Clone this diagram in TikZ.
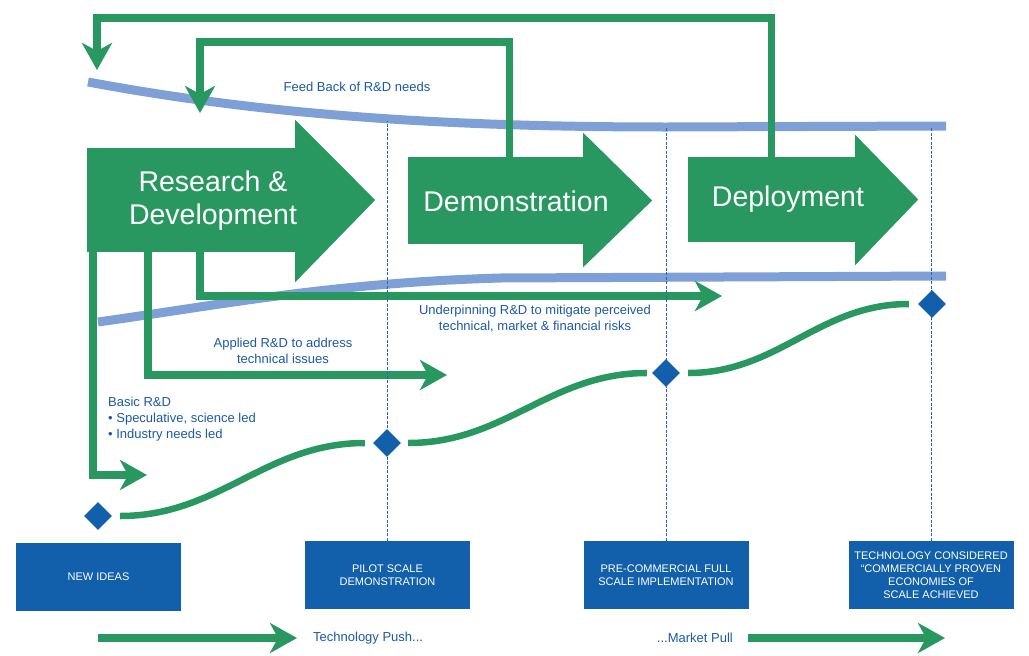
\documentclass[tikz,border=0pt]{standalone}
\usepackage{fontspec}
\setmainfont{Liberation Sans}
\usepackage{xcolor}
\usetikzlibrary{shapes.geometric,arrows.meta}

\definecolor{rdgreen}{RGB}{40,152,96}
\definecolor{bandblue}{RGB}{127,160,214}
\definecolor{boxblue}{RGB}{18,96,172}
\definecolor{textblue}{RGB}{28,88,166}
\definecolor{guideblue}{RGB}{40,100,180}

\begin{document}
\begin{tikzpicture}[x=1pt,y=-1pt,
  greenline/.style={draw=rdgreen,line width=7.5pt},
  gtip/.style={-{Stealth[length=27pt,width=30pt,inset=8pt]}},
  band/.style={draw=bandblue,line width=9pt},
  guide/.style={draw=guideblue,line width=0.8pt,dash pattern=on 3pt off 1.5pt},
  body/.style={fill=rdgreen,inner sep=0pt},
  bigtext/.style={text=white,font=\fontsize{28.5}{33}\selectfont,align=center,inner sep=0pt},
  note/.style={text=textblue,font=\fontsize{13}{16}\selectfont,align=center,inner sep=0pt},
  stage/.style={fill=boxblue,text=white,font=\fontsize{11}{13}\selectfont,align=center,minimum width=165pt,minimum height=68pt,inner sep=0pt},
  mile/.style={diamond,fill=boxblue,minimum size=28pt,inner sep=0pt},
  sline/.style={draw=rdgreen,line width=6.5pt}]
\useasboundingbox (0,0) rectangle (1029,656);

\draw[band] (88,82) .. controls (250,112) and (420,127) .. (667,127) -- (946,126);
\draw[band] (98,322) .. controls (220,305) and (330,283) .. (500,278) -- (946,276);

\node[body,minimum width=208pt,minimum height=104pt] (rd) at (191,200) {};
\fill[rdgreen] ([yshift=28pt]rd.north east) -- ([xshift=80pt]rd.east) -- ([yshift=-30pt]rd.south east) -- cycle;
\node[body,minimum width=175pt,minimum height=87pt] (dm) at (495.5,200.5) {};
\fill[rdgreen] ([yshift=24pt]dm.north east) -- ([xshift=69pt]dm.east) -- ([yshift=-23pt]dm.south east) -- cycle;
\node[body,minimum width=167pt,minimum height=85pt] (dp) at (771.5,199.5) {};
\fill[rdgreen] ([yshift=22pt]dp.north east) -- ([xshift=63pt]dp.east) -- ([yshift=-23pt]dp.south east) -- cycle;

\node[bigtext] (rdlabel) at (213,201) {Research \&\\Development};
\node[bigtext] (dmlabel) at (516,201) {Demonstration};
\node[bigtext] (dplabel) at (788,199) {Deployment};

\coordinate (fbtip1) at (97,70);
\coordinate (fbtip2) at (200,113);
\draw[greenline,gtip] (dp.north) -- ++(0,-139) -| (fbtip1);
\draw[greenline,gtip] ([xshift=14pt]dm.north) -- ++(0,-115) -| (fbtip2);

\coordinate (basictip) at (147,475);
\coordinate (appltip) at (447,375);
\coordinate (undtip) at (722,296);
\draw[greenline,gtip] ([xshift=6pt]rd.south west) |- (basictip);
\draw[greenline,gtip] ([xshift=61pt]rd.south west) |- (appltip);
\draw[greenline,gtip] ([xshift=113pt]rd.south west) |- (undtip);

\node[note] (fbnote) at (357,87) {Feed Back of R\&D needs};
\node[note] (applnote) at (283,351) {Applied R\&D to address\\technical issues};
\node[note] (undnote) at (535,319) {Underpinning R\&D to mitigate perceived\\technical, market \& financial risks};
\node[note,align=left,anchor=north west] (basicnote) at (108,397) {Basic R\&D\\\textbullet\ Speculative, science led\\\textbullet\ Industry needs led};

\node[stage] (idea) at (98.5,577) {NEW IDEAS};
\node[stage] (pilot) at (387.5,575) {PILOT SCALE\\DEMONSTRATION};
\node[stage] (precom) at (666,575) {PRE-COMMERCIAL FULL\\SCALE IMPLEMENTATION};
\node[stage] (proven) at (931,575) {TECHNOLOGY CONSIDERED\\“COMMERCIALLY PROVEN\\ECONOMIES OF\\SCALE ACHIEVED};

\draw[guide] (pilot.north) -- ++(0,-420);
\draw[guide] (precom.north) -- ++(0,-414);
\draw[guide] (proven.north) -- ++(0,-413);

\node[mile] (m1) at (98,516) {};
\node[mile] (m2) at (387,443) {};
\node[mile] (m3) at (666,373) {};
\node[mile] (m4) at (932,304) {};
\draw[sline] ([xshift=8pt]m1.east) to[out=0,in=180] ([xshift=-8pt]m2.west);
\draw[sline] ([xshift=7pt]m2.east) to[out=0,in=180] ([xshift=-5pt]m3.west);
\draw[sline] ([xshift=8pt]m3.east) to[out=0,in=180] ([xshift=-9pt]m4.west);

\node[note,anchor=west] (push) at (313,638) {Technology Push...};
\node[note,anchor=east] (pull) at (733,638) {...Market Pull};
\path (push.west) ++(-215,0) coordinate (pushstart);
\path (pull.east) ++(212,0) coordinate (pullend);
\draw[greenline,line width=8pt,gtip] (pushstart) -- ([xshift=-16pt]push.west);
\draw[greenline,line width=8pt,gtip] ([xshift=15pt]pull.east) -- (pullend);
\end{tikzpicture}
\end{document}
